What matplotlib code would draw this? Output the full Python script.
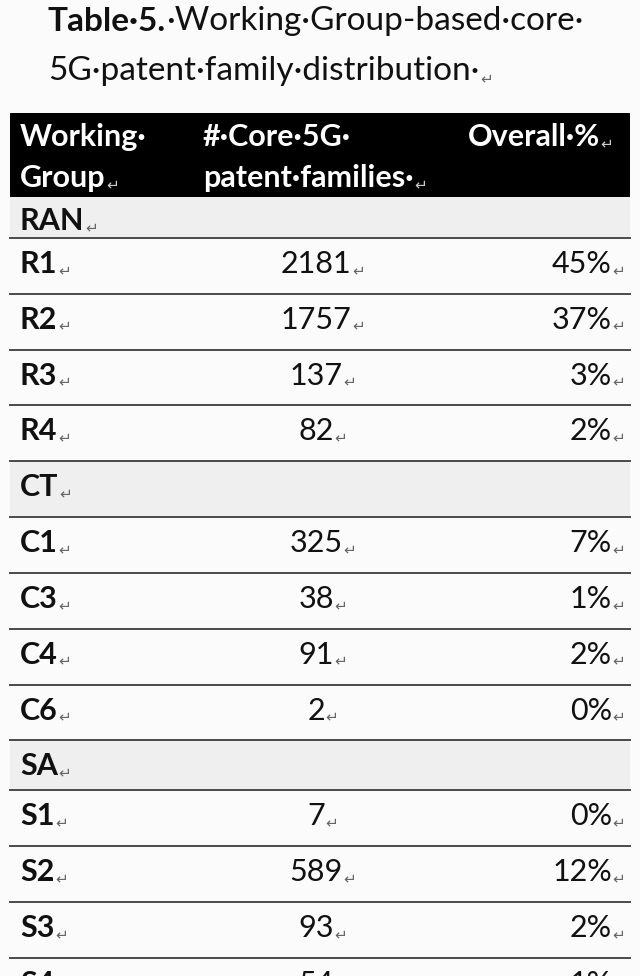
import matplotlib
matplotlib.use("Agg")
import matplotlib.pyplot as plt
from matplotlib.patches import Rectangle

# ---------------- data ----------------
title_line1_bold = "Table·5."
title_line1_rest = "·Working·Group-based·core·"
title_line2 = "5G·patent·family·distribution·"
header_cols = [["Working·", "Group"], ["#·Core·5G·", "patent·families·"], ["Overall·%"]]

sections = ["RAN", "CT", "SA"]
groups = [["R1", "R2", "R3", "R4"],
          ["C1", "C3", "C4", "C6"],
          ["S1", "S2", "S3", "S4"]]
counts = [[2181, 1757, 137, 82],
          [325, 38, 91, 2],
          [7, 589, 93, 54]]
overall_pct = [[45, 37, 3, 2],
               [7, 1, 2, 0],
               [0, 12, 2, 1]]

# ---------------- layout ----------------
W, H = 640, 976
fig = plt.figure(figsize=(W / 100, H / 100), dpi=100)
fig.patch.set_facecolor("#fbfbfb")
ax = fig.add_axes([0, 0, 1, 1])
ax.set_xlim(0, W)
ax.set_ylim(H, 0)
ax.axis("off")

FONT = ["Lato", "DejaVu Sans"]
BODY = 22
X0, X1 = 10, 630
COL_GROUP_X = 20
COL_COUNT_X = 316
COL_PCT_X = 612


def para_mark(t, color="#666666"):
    ax.annotate("↵", xy=(1, 0), xycoords=t, xytext=(0.5, 0), textcoords="offset points",
                ha="left", va="bottom", family=["DejaVu Sans"], fontsize=11, color=color,
                annotation_clip=False)


# title
t1 = ax.text(48, 31, title_line1_bold, fontsize=24, fontweight="bold", family=FONT,
             color="#111111", va="baseline", ha="left")
ax.annotate(title_line1_rest, xy=(1, 0), xycoords=t1, xytext=(0, 0), textcoords="offset points",
            ha="left", va="bottom", fontsize=24, family=FONT, color="#111111")
t2 = ax.text(48, 80, title_line2, fontsize=24, family=FONT, color="#111111",
             va="baseline", ha="left")
para_mark(t2)

# header
ax.add_patch(Rectangle((X0, 113), X1 - X0, 84, facecolor="black", edgecolor="none"))
hx = [20, 203, None]
for ci, lines in enumerate(header_cols):
    for li, s in enumerate(lines):
        y = 146 + li * 41
        if ci == 2:
            t = ax.text(600, y, s, fontsize=BODY, fontweight="bold", family=FONT,
                        color="white", ha="right", va="baseline")
        else:
            t = ax.text(hx[ci], y, s, fontsize=BODY, fontweight="bold", family=FONT,
                        color="white", ha="left", va="baseline")
        if li == len(lines) - 1:
            para_mark(t, color="#cccccc")

# body rows
section_heights = {"RAN": 41, "CT": 56, "SA": 50}
row_h = 55.8
y = 197
line_kw = dict(color="#4a4a4a", lw=1.4)
for si, sec in enumerate(sections):
    h = section_heights[sec]
    ax.add_patch(Rectangle((X0, y), X1 - X0, h, facecolor="#efefef", edgecolor="none"))
    t = ax.text(COL_GROUP_X, y + 33 if h < 45 else y + 35, sec, fontsize=BODY, fontweight="bold",
                family=FONT, color="#111111", ha="left", va="baseline")
    para_mark(t)
    y += h
    ax.plot([X0, X1], [y, y], **line_kw)
    for gi, g in enumerate(groups[si]):
        base = y + 35
        t = ax.text(COL_GROUP_X, base, g, fontsize=BODY, fontweight="bold", family=FONT,
                    color="#111111", ha="left", va="baseline", clip_on=True)
        para_mark(t)
        t = ax.text(COL_COUNT_X, base, str(counts[si][gi]), fontsize=BODY, family=FONT,
                    color="#111111", ha="center", va="baseline", clip_on=True)
        para_mark(t)
        t = ax.text(COL_PCT_X, base, f"{overall_pct[si][gi]}%", fontsize=BODY, family=FONT,
                    color="#111111", ha="right", va="baseline", clip_on=True)
        para_mark(t)
        y += row_h
        ax.plot([X0, X1], [y, y], **line_kw)

fig.savefig("out.png", dpi=100, facecolor=fig.get_facecolor())
